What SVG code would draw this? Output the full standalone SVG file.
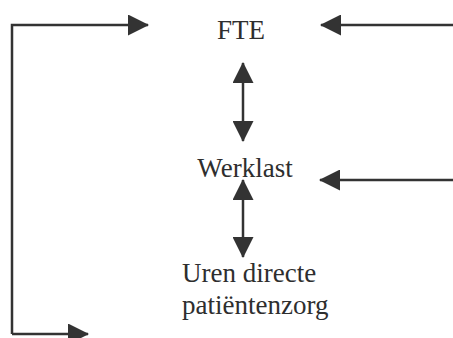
<svg xmlns="http://www.w3.org/2000/svg" width="453" height="338" viewBox="0 0 453 338">
<style>
.t{font-family:"Liberation Serif","Times New Roman",serif;font-size:27px;fill:#2e2e2e;text-anchor:middle}
.s{text-anchor:start}
.c{fill:none;stroke:#333;stroke-width:2.5}
</style>
<defs>
<marker id="ah" markerUnits="userSpaceOnUse" markerWidth="21" markerHeight="21" viewBox="0 0 21 21" refX="20" refY="10.5" orient="auto-start-reverse">
<path d="M0,0 L21,10.5 L0,21 Z" fill="#333"/>
</marker>
</defs>
<rect width="453" height="338" fill="#fff"/>
<g id="connectors">
<path class="c" d="M12,334 V25 H148" marker-end="url(#ah)"/>
<path class="c" d="M12,334 H88" marker-end="url(#ah)"/>
<path class="c" d="M453,25 H321" marker-end="url(#ah)"/>
<path class="c" d="M453,180 H320" marker-end="url(#ah)"/>
<path class="c" d="M243,63 V141" marker-start="url(#ah)" marker-end="url(#ah)"/>
<path class="c" d="M243,180 V257" marker-start="url(#ah)" marker-end="url(#ah)"/>
</g>
<g id="fte"><text class="t" x="241" y="39">FTE</text></g>
<g id="werklast"><text class="t" x="245" y="177">Werklast</text></g>
<g id="uren"><text class="t s" x="182" y="282">Uren directe</text><text class="t s" x="182" y="314">patiëntenzorg</text></g>
</svg>
